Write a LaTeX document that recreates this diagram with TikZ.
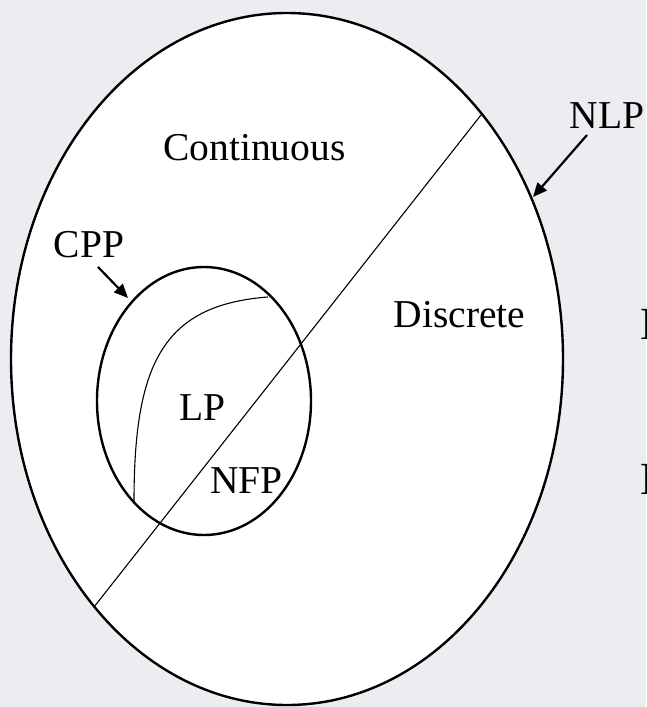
\documentclass[tikz,border=0pt]{standalone}
\usepackage{fontspec}
\setmainfont{Liberation Serif}
\usetikzlibrary{arrows.meta}
\definecolor{bggray}{RGB}{236,237,240}
\tikzset{
  lbl/.style={font=\fontsize{39.5}{44}\selectfont, inner sep=0pt, anchor=base},
  cutlbl/.style={font=\fontsize{46}{50}\selectfont, inner sep=0pt, anchor=base west},
  rim/.style={line width=2.4pt, fill=white},
  thinline/.style={line width=1.1pt},
  pointer/.style={line width=2.2pt, -{Triangle[length=14pt,width=12pt]}},
}
\begin{document}
\begin{tikzpicture}[x=1pt,y=-1pt]
\fill[bggray] (0,0) rectangle (646,707);
\useasboundingbox (0,0) rectangle (646,707);
% outer ellipse (NLP)
\draw[rim] (287,359) ellipse [x radius=276, y radius=346];
% dividing line
\coordinate (lineTop) at (481,115);
\coordinate (lineBot) at (94,607);
% inner ellipse (CPP)
\draw[rim] (204,401) ellipse [x radius=107, y radius=134];
\draw[thinline] (lineBot) -- (lineTop);
% LP boundary curve
\coordinate (curveTop) at (268,297);
\coordinate (curveBot) at (134,502);
\draw[thinline] (curveTop) .. controls (162,305) and (134,365) .. (curveBot);
% labels
\node[lbl] (cont) at (254.5,160) {Continuous};
\node[lbl] (disc) at (459.5,327) {Discrete};
\node[lbl] (nlp) at (607,128) {NLP};
\node[lbl] (cpp) at (89,257) {CPP};
\node[lbl] (lp) at (202.5,420) {LP};
\node[lbl] (nfp) at (246.5,493) {NFP};
\node[cutlbl] (cutA) at (640.5,339) {N};
\node[cutlbl] (cutB) at (640.5,494) {N};
% pointers
\coordinate (nlpTail) at (587,135);
\coordinate (nlpTip) at (533,197);
\coordinate (cppTail) at (98,267);
\coordinate (cppTip) at (128,298);
\draw[pointer] (nlpTail) -- (nlpTip);
\draw[pointer] (cppTail) -- (cppTip);
\end{tikzpicture}
\end{document}
